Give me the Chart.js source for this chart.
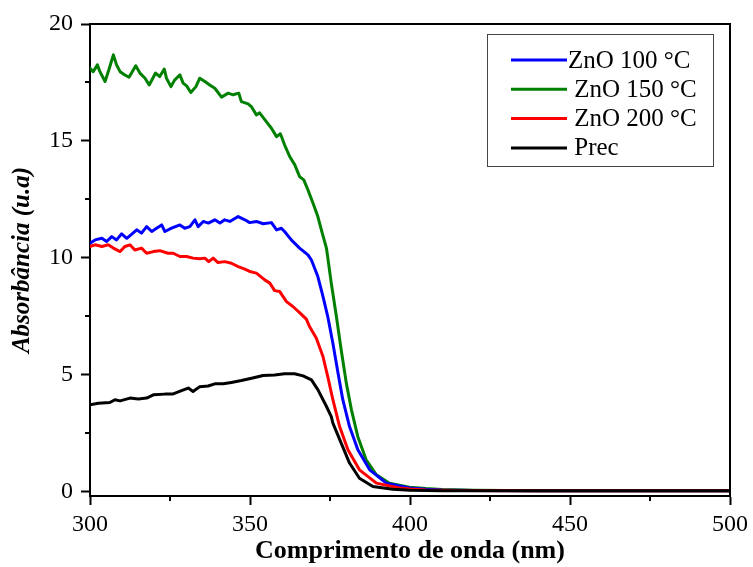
<!DOCTYPE html>
<html>
<head>
<meta charset="utf-8">
<script src="https://cdn.jsdelivr.net/npm/chart.js@4"></script>
<style>
html,body{margin:0;padding:0;background:#fff;}
#wrap{width:753px;height:567px;position:relative;}
</style>
</head>
<body>
<div id="wrap"><canvas id="c" width="753" height="567"></canvas></div>
<script>
// ---- data ----
const seriesLabels = ["ZnO 100 °C", " ZnO 150 °C", " ZnO 200 °C", " Prec"];

const wlBlue = [300,301.6,303.7,305.2,306.8,308.3,309.9,311.5,314.6,316.1,317.7,319.3,320.8,322.4,323.4,325.5,328.1,329.6,331.2,332.8,333.8,335.4,337.0,339.0,340.6,342.1,343.7,346.3,348.4,349.9,352.0,354.1,356.7,358.3,359.8,360.8,362.9,365.5,368.1,369.2,370.2,371.2,372.8,374.3,375.9,377.5,379.0,381.1,383.7,387.4,392.6,399.8,405,410,420,440,500];
const absBlue = [10.62,10.76,10.83,10.69,10.90,10.76,11.02,10.83,11.19,11.05,11.33,11.12,11.26,11.40,11.12,11.26,11.40,11.26,11.33,11.62,11.33,11.55,11.48,11.62,11.48,11.62,11.55,11.76,11.62,11.50,11.55,11.45,11.50,11.19,11.26,11.12,10.76,10.41,10.12,9.90,9.55,9.19,8.34,7.48,6.34,5.06,3.92,2.77,1.78,0.92,0.35,0.14,0.09,0.06,0.04,0.03,0.02];

const wlGreen = [300,301.0,302.3,303.1,304.7,305.9,307.3,308.3,309.4,310.9,312.2,314.3,315.6,317.2,318.5,320.5,321.8,323.2,323.9,325.3,326.5,328.1,329.1,330.2,331.5,333.1,334.3,335.9,337.4,339.0,341.1,343.2,344.7,346.5,347.3,349.4,350.5,352.0,353.0,355.1,356.7,358.3,359.5,360.8,362.4,364.0,365.5,366.8,368.1,369.7,371.2,372.3,373.9,375.4,377.0,378.5,380.1,381.7,383.7,386.3,389.5,393.6,399.8,405,410,420,440,500];
const absGreen = [18.11,17.96,18.25,17.96,17.54,18.04,18.68,18.25,17.96,17.82,17.72,18.21,17.90,17.68,17.39,17.90,17.75,18.07,17.68,17.32,17.61,17.82,17.47,17.35,17.07,17.32,17.68,17.54,17.39,17.25,16.87,17.04,16.97,17.04,16.68,16.58,16.45,16.11,16.20,15.82,15.54,15.18,15.30,14.83,14.33,13.97,13.47,13.33,12.90,12.33,11.76,11.19,10.40,8.91,7.48,6.05,4.63,3.49,2.34,1.35,0.71,0.35,0.18,0.12,0.08,0.05,0.03,0.02];

const wlRed = [300,301.6,303.7,305.7,307.3,309.4,310.9,312.5,314.0,316.1,317.7,319.8,321.8,324.4,326.0,328.1,330.2,332.2,334.3,335.9,337.1,338.5,340.0,342.1,344.2,346.3,348.4,349.9,352.0,354.6,356.2,357.7,359.3,361.4,363.4,365.5,367.6,368.6,370.7,372.8,374.3,375.9,378.0,380.6,384.2,389.5,396.7,400,405,415,440,500];
const absRed = [10.48,10.55,10.48,10.55,10.41,10.26,10.48,10.55,10.33,10.41,10.19,10.26,10.30,10.19,10.19,10.05,10.05,9.98,9.95,9.98,9.83,9.98,9.79,9.83,9.76,9.62,9.51,9.41,9.34,9.05,8.91,8.59,8.55,8.12,7.91,7.65,7.37,7.05,6.56,5.77,4.91,3.92,2.77,1.78,0.92,0.35,0.14,0.10,0.06,0.04,0.03,0.02];

const wlPrec = [300,302.6,306.2,307.8,309.4,312.5,315.1,317.7,319.8,323.4,326.0,328.6,330.7,332.2,334.3,336.9,339.0,341.6,344.2,347.3,350.5,354.1,357.7,360.8,363.9,366.6,369.2,371.2,373.9,375.4,375.9,378.5,381.1,384.2,388.4,394.6,400,410,440,500];
const absPrec = [3.70,3.77,3.80,3.92,3.87,3.99,3.95,3.99,4.13,4.16,4.17,4.31,4.42,4.27,4.48,4.51,4.60,4.60,4.66,4.74,4.84,4.96,4.98,5.03,5.03,4.94,4.77,4.35,3.63,3.20,2.92,2.06,1.21,0.56,0.21,0.09,0.05,0.03,0.02,0.02];

const xTicks = [300, 350, 400, 450, 500];
const xMinorTicks = [325, 375, 425, 475];
const yTicks = [0, 5, 10, 15, 20];
const yMinorTicks = [2.5, 7.5, 12.5, 17.5];
const xTitle = "Comprimento de onda (nm)";
const yTitle = "Absorbância (u.a)";

// ---- build chart ----
const pts = (xs, ys) => xs.map((x, i) => ({x: x, y: ys[i]}));
const SERIF = '"Liberation Serif", "Times New Roman", serif';
Chart.defaults.font.family = SERIF;
Chart.defaults.color = '#000';

const frameAndLegend = {
  id: 'frameAndLegend',
  afterDraw(chart) {
    const ctx = chart.ctx;
    const a = chart.chartArea;
    const xs = chart.scales.x, ys = chart.scales.y;
    ctx.save();
    ctx.strokeStyle = '#000';
    ctx.lineWidth = 2;
    // top and right frame
    ctx.beginPath();
    ctx.moveTo(a.left, a.top);
    ctx.lineTo(a.right, a.top);
    ctx.lineTo(a.right, a.bottom);
    ctx.stroke();
    // minor ticks
    ctx.beginPath();
    xMinorTicks.forEach(v => {
      const px = Math.round(xs.getPixelForValue(v));
      ctx.moveTo(px, a.bottom);
      ctx.lineTo(px, a.bottom + 5);
    });
    yMinorTicks.forEach(v => {
      const py = Math.round(ys.getPixelForValue(v));
      ctx.moveTo(a.left, py);
      ctx.lineTo(a.left - 5, py);
    });
    ctx.stroke();
    // legend
    const bx = 487, by = 34, bw = 226, bh = 132;
    ctx.fillStyle = '#fff';
    ctx.fillRect(bx, by, bw, bh);
    ctx.strokeStyle = '#444';
    ctx.lineWidth = 1;
    ctx.strokeRect(bx + 0.5, by + 0.5, bw, bh);
    ctx.font = '25px ' + SERIF;
    ctx.textBaseline = 'middle';
    ctx.textAlign = 'left';
    chart.data.datasets.forEach((ds, i) => {
      const yy = 60 + i * 29.3;
      ctx.strokeStyle = ds.borderColor;
      ctx.lineWidth = 3;
      ctx.beginPath();
      ctx.moveTo(511, yy);
      ctx.lineTo(567, yy);
      ctx.stroke();
      ctx.fillStyle = '#000';
      ctx.fillText(ds.label, 568, yy + 1);
    });
    ctx.restore();
  }
};

new Chart(document.getElementById('c'), {
  type: 'line',
  data: {
    datasets: [
      {label: seriesLabels[0], data: pts(wlBlue, absBlue), borderColor: '#0000FF', order: 2},
      {label: seriesLabels[1], data: pts(wlGreen, absGreen), borderColor: '#008000', order: 3},
      {label: seriesLabels[2], data: pts(wlRed, absRed), borderColor: '#FF0000', order: 1},
      {label: seriesLabels[3], data: pts(wlPrec, absPrec), borderColor: '#000000', order: 0}
    ]
  },
  options: {
    responsive: false,
    animation: false,
    devicePixelRatio: 1,
    parsing: true,
    elements: {
      line: {borderWidth: 3, tension: 0, fill: false, borderJoinStyle: 'round', borderCapStyle: 'round'},
      point: {radius: 0, hoverRadius: 0}
    },
    layout: {padding: {left: 0, top: 24, right: 22, bottom: 0}},
    plugins: {legend: {display: false}, tooltip: {enabled: false}},
    scales: {
      x: {
        type: 'linear',
        min: 300, max: 500,
        afterFit: s => { s.height = 71; },
        afterBuildTicks: s => { s.ticks = xTicks.map(v => ({value: v})); },
        ticks: {font: {size: 24, family: SERIF}, color: '#000', padding: 5, maxRotation: 0},
        grid: {drawOnChartArea: false, drawTicks: true, tickLength: 9, tickWidth: 2, tickColor: '#000'},
        border: {display: true, color: '#000', width: 2},
        title: {display: true, text: xTitle, font: {size: 26, weight: 'bold', family: SERIF}, color: '#000', padding: {top: 0, bottom: 0}}
      },
      y: {
        type: 'linear',
        min: -0.2, max: 20,
        afterFit: s => { s.width = 90; },
        afterBuildTicks: s => { s.ticks = yTicks.map(v => ({value: v})); },
        ticks: {font: {size: 24, family: SERIF}, color: '#000', padding: 8},
        grid: {drawOnChartArea: false, drawTicks: true, tickLength: 9, tickWidth: 2, tickColor: '#000'},
        border: {display: true, color: '#000', width: 2},
        title: {display: true, text: yTitle, font: {size: 25, weight: 'bold', style: 'italic', family: SERIF}, color: '#000', padding: {top: 8, bottom: 0}}
      }
    }
  },
  plugins: [frameAndLegend]
});
</script>
</body>
</html>
